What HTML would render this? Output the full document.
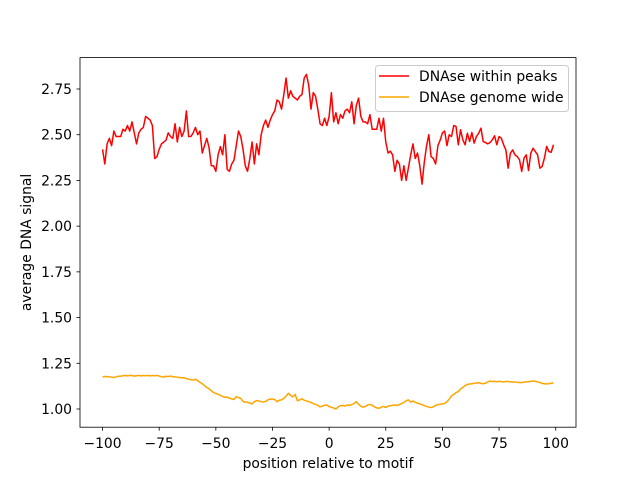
<!DOCTYPE html>
<html><head><meta charset="utf-8"><style>
body{margin:0;background:#fff}
svg{display:block;font-family:"DejaVu Sans","Liberation Sans",sans-serif}
</style></head><body>
<svg id="chart" width="640" height="480" viewBox="0 0 640 480">
<rect width="640" height="480" fill="#fff"/>
<g id="plot"></g>
</svg>
<script>
const positions = [];
for (let i = -100; i <= 99; i++) positions.push(i);
const withinPeaks = [
2.42,2.34,2.45,2.48,2.44,2.52,2.49,2.49,2.49,2.53,2.52,2.55,2.52,2.57,2.51,2.45,2.51,2.53,2.54,2.60,2.59,2.58,2.55,2.37,2.38,2.42,2.45,2.46,2.47,2.51,2.49,2.48,2.56,2.46,2.54,2.49,2.52,2.63,2.49,2.49,2.51,2.54,2.50,2.52,2.40,2.44,2.48,2.43,2.33,2.33,2.30,2.39,
2.435,2.39,2.50,2.31,2.30,2.34,2.36,2.44,2.52,2.49,2.42,2.33,2.30,2.37,2.46,2.34,2.45,2.39,2.50,2.55,2.58,2.54,2.58,2.61,2.63,2.69,2.68,2.64,2.72,2.81,2.70,2.74,2.71,2.70,2.69,2.71,2.72,2.81,2.83,2.77,2.64,2.73,2.71,2.64,2.56,2.55,2.59,2.55,
2.60,2.73,2.57,
2.62,2.56,2.61,2.59,2.63,2.64,2.62,2.68,2.56,2.66,2.70,2.60,2.57,2.57,2.56,2.61,2.53,2.53,2.53,2.59,2.52,2.59,2.46,2.40,2.41,2.39,2.30,2.36,2.34,2.25,2.33,2.25,2.32,2.39,2.45,2.37,2.40,2.33,2.23,2.35,2.44,2.50,2.38,2.37,2.34,2.44,2.47,2.51,2.52,2.44,2.50,2.49,2.55,
2.545,2.445,2.527,2.472,2.445,2.508,2.463,2.512,2.454,2.490,2.508,2.536,2.463,2.457,2.450,2.457,2.472,2.494,2.445,2.490,2.481,2.445,2.417,2.317,2.399,2.417,2.390,2.381,2.363,2.299,2.372,2.390,2.304,2.399,2.426,2.408,2.390,2.317,2.326,2.372,2.436,2.408,2.404,2.445];
const genomeWide = [
1.175,1.178,1.177,1.176,1.174,1.172,1.176,1.179,1.180,1.182,
1.183,1.181,1.184,1.183,1.180,1.182,1.184,1.181,1.183,1.182,
1.184,1.181,1.183,1.182,1.184,1.180,1.176,1.175,1.179,1.178,
1.180,1.177,1.176,1.174,1.172,1.170,1.171,1.166,1.163,1.160,
1.158,1.163,1.155,1.146,1.138,1.128,1.118,1.110,1.100,1.090,
1.085,1.080,1.074,1.069,1.064,1.065,1.060,1.055,1.052,1.068,
1.062,1.058,1.042,1.036,1.038,1.032,1.028,1.040,1.046,1.044,
1.040,1.038,1.042,1.050,1.055,1.054,1.052,1.040,1.048,1.050,
1.058,1.070,1.086,1.074,1.066,1.080,1.045,1.050,1.056,1.048,
1.044,1.040,1.036,1.030,1.025,1.020,1.012,1.016,1.020,1.022,
1.013,1.010,1.005,1.000,1.012,1.018,1.020,1.016,1.022,1.020,
1.024,1.030,1.040,1.026,1.015,1.010,1.014,1.022,1.025,1.020,
1.012,1.006,1.004,1.010,1.014,1.008,1.016,1.018,1.020,1.022,
1.020,1.024,1.030,1.036,1.045,1.050,1.038,1.044,1.036,1.032,
1.028,1.024,1.018,1.014,1.010,1.008,1.012,1.020,1.024,1.026,
1.028,1.030,1.040,1.054,1.072,1.080,1.090,1.095,1.110,1.118,
1.128,1.134,1.137,1.138,1.140,1.142,1.144,1.140,1.138,1.141,
1.148,1.153,1.150,1.152,1.149,1.151,1.150,1.148,1.151,1.150,
1.149,1.147,1.148,1.146,1.145,1.144,1.147,1.149,1.150,1.151,
1.153,1.152,1.148,1.145,1.140,1.138,1.137,1.139,1.141,1.143];
const xTicks = [-100,-75,-50,-25,0,25,50,75,100];
const yTicks = [1.00,1.25,1.50,1.75,2.00,2.25,2.50,2.75];
const seriesNames = ["DNAse within peaks","DNAse genome wide"];

const L=80,R=576,T=57.6,B=427.2;
const xmin=-109.95,xmax=108.95,ymin=0.9005,ymax=2.9217;
const sx=v=>L+(v-xmin)/(xmax-xmin)*(R-L);
const sy=v=>B-(v-ymin)/(ymax-ymin)*(B-T);
const NS="http://www.w3.org/2000/svg";
const g=document.getElementById('plot');
function mk(tag,attrs,parent){const e=document.createElementNS(NS,tag);for(const k in attrs)e.setAttribute(k,attrs[k]);(parent||g).appendChild(e);return e;}

function line(vals,color,name){
  const d=vals.map((v,i)=>(i?'L':'M')+sx(positions[i]).toFixed(2)+','+sy(v).toFixed(2)).join('');
  const p=mk('path',{d:d,fill:'none',stroke:color,'stroke-width':1.5,'stroke-linejoin':'round'});
  
  
}
line(withinPeaks,'#ff0000','series-within-peaks');
line(genomeWide,'#ffa500','series-genome-wide');

const frame=mk('rect',{x:L,y:T,width:R-L,height:B-T,fill:'none',stroke:'#000','stroke-width':0.8});



xTicks.forEach(t=>{
  const x=sx(t);
  mk('line',{x1:x,x2:x,y1:B,y2:B+3.5,stroke:'#000','stroke-width':0.8});
  const tx=mk('text',{x:x,y:B+21,'text-anchor':'middle','font-size':'13.9px',fill:'#000'});
  tx.textContent=String(t).replace('-','\u2212');
  
  
});
yTicks.forEach(t=>{
  const y=sy(t);
  mk('line',{x1:L,x2:L-3.5,y1:y,y2:y,stroke:'#000','stroke-width':0.8});
  const tx=mk('text',{x:L-8,y:y+5,'text-anchor':'end','font-size':'13.9px',fill:'#000'});
  tx.textContent=t.toFixed(2);
  
  
});
const xl=mk('text',{x:(L+R)/2,y:468,'text-anchor':'middle','font-size':'13.9px',fill:'#000'});
xl.textContent='position relative to motif';


const yl=mk('text',{x:0,y:0,'text-anchor':'middle','font-size':'13.9px',fill:'#000',transform:'translate(31,'+((T+B)/2)+') rotate(-90)'});
yl.textContent='average DNA signal';



const lg=mk('g',{});


mk('rect',{x:375.5,y:65.5,width:193,height:46,rx:3,fill:'#fff','fill-opacity':0.8,stroke:'#ccc','stroke-width':1},lg);
const colors=['#ff0000','#ffa500'];
seriesNames.forEach((n,i)=>{
  const y=76+i*21;
  mk('line',{x1:379,x2:409,y1:y,y2:y,stroke:colors[i],'stroke-width':1.5},lg);
  const t=mk('text',{x:419,y:y+5,'font-size':'13.9px',fill:'#000'},lg);
  t.textContent=n;
  
  
});
</script>
</body></html>
